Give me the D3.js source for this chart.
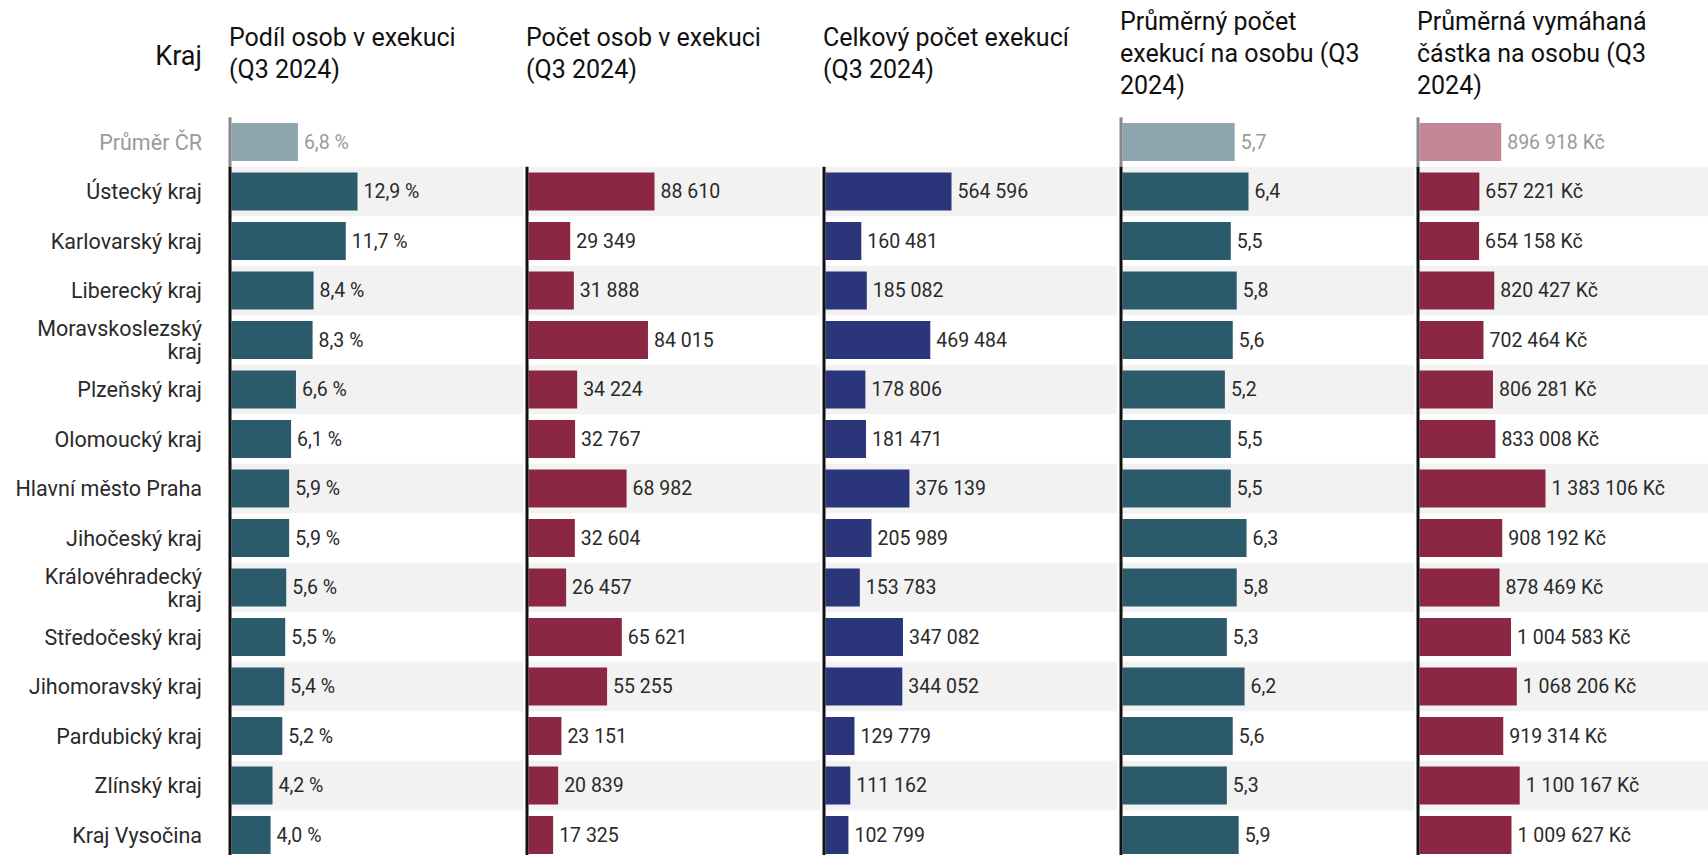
<!DOCTYPE html>
<html>
<head>
<meta charset="utf-8">
<script src="https://cdn.jsdelivr.net/npm/d3@7"></script>
<style>
  body { margin: 0; background: #fff; }
  svg { display: block; font-family: Roboto, "Noto Sans", sans-serif; }
</style>
</head>
<body>
<svg id="chart" width="1708" height="855"></svg>
<script>
// Data
const regions = [
  'Ústecký kraj', 'Karlovarský kraj', 'Liberecký kraj', 'Moravskoslezský kraj',
  'Plzeňský kraj', 'Olomoucký kraj', 'Hlavní město Praha', 'Jihočeský kraj',
  'Královéhradecký kraj', 'Středočeský kraj', 'Jihomoravský kraj',
  'Pardubický kraj', 'Zlínský kraj', 'Kraj Vysočina'
];
const avgLabel = 'Průměr ČR';

const shareValues = [12.9, 11.7, 8.4, 8.3, 6.6, 6.1, 5.9, 5.9, 5.6, 5.5, 5.4, 5.2, 4.2, 4.0];
const shareAvg = 6.8;

const personValues = [88610, 29349, 31888, 84015, 34224, 32767, 68982, 32604, 26457, 65621, 55255, 23151, 20839, 17325];

const totalValues = [564596, 160481, 185082, 469484, 178806, 181471, 376139, 205989, 153783, 347082, 344052, 129779, 111162, 102799];

const perPersonValues = [6.4, 5.5, 5.8, 5.6, 5.2, 5.5, 5.5, 6.3, 5.8, 5.3, 6.2, 5.6, 5.3, 5.9];
const perPersonAvg = 5.7;

const amountValues = [657221, 654158, 820427, 702464, 806281, 833008, 1383106, 908192, 878469, 1004583, 1068206, 919314, 1100167, 1009627];
const amountAvg = 896918;

const titles = [
  ['Podíl osob v exekuci', '(Q3 2024)'],
  ['Počet osob v exekuci', '(Q3 2024)'],
  ['Celkový počet exekucí', '(Q3 2024)'],
  ['Průměrný počet', 'exekucí na osobu (Q3', '2024)'],
  ['Průměrná vymáhaná', 'částka na osobu (Q3', '2024)']
];

// Czech number formatting
const cz = d3.formatLocale({ decimal: ',', thousands: '\u00a0', grouping: [3], currency: ['', '\u00a0Kč'] });
const fmtPct = v => cz.format('.1f')(v) + '\u00a0%';
const fmtInt = v => cz.format(',d')(v);
const fmtDec = v => cz.format('.1f')(v);
const fmtKc = v => cz.format(',d')(v) + '\u00a0Kč';

const teal = '#2b5a6a', tealLight = '#8ea5ae';
const wine = '#8b2743', wineLight = '#c48797';
const navy = '#2b357a';

const columns = [
  { values: shareValues, avg: shareAvg, color: teal, avgColor: tealLight, fmt: fmtPct },
  { values: personValues, avg: null, color: wine, avgColor: null, fmt: fmtInt },
  { values: totalValues, avg: null, color: navy, avgColor: null, fmt: fmtInt },
  { values: perPersonValues, avg: perPersonAvg, color: teal, avgColor: tealLight, fmt: fmtDec },
  { values: amountValues, avg: amountAvg, color: wine, avgColor: wineLight, fmt: fmtKc }
];

const svg = d3.select('#chart');
const width = 1708, height = 855;

const labelRight = 202;
const colStart = 230, colStep = 297, barMax = 126;

// Rows: average first, then regions
const rowKeys = [avgLabel, ...regions];
const step = 49.5;
const y = d3.scaleBand()
  .domain(rowKeys)
  .range([117.25, 117.25 + step * rowKeys.length])
  .paddingInner(0);
const barH = 38;
const barOff = (y.bandwidth() - barH) / 2;

// Alternating background bands, per column
columns.forEach((col, ci) => {
  const x0 = colStart + colStep * ci;
  const bandW = ci === columns.length - 1 ? width - x0 : colStep - 4;
  svg.append('g')
    .selectAll('rect')
    .data(regions.filter((d, i) => i % 2 === 0))
    .join('rect')
    .attr('x', x0)
    .attr('y', d => y(d))
    .attr('width', bandW)
    .attr('height', y.bandwidth())
    .attr('fill', '#f2f2f2');
});

// Header
svg.append('text')
  .attr('x', labelRight)
  .attr('y', 65)
  .attr('text-anchor', 'end')
  .attr('font-size', 27)
  .attr('fill', '#111')
  .text('Kraj');

// Row labels (long names wrap onto two lines)
svg.append('g')
  .selectAll('text')
  .data(rowKeys)
  .join('text')
  .attr('x', labelRight)
  .attr('text-anchor', 'end')
  .attr('font-size', 21.5)
  .attr('fill', d => d === avgLabel ? '#9a9a9a' : '#2a2a2a')
  .each(function(d) {
    const t = d3.select(this);
    const cy = y(d) + y.bandwidth() / 2;
    t.text(d).attr('y', cy).attr('dy', '0.35em');
    if (this.getComputedTextLength() > 192) {
      const words = d.split(' ');
      const last = words.pop();
      t.text(null);
      t.append('tspan').attr('x', labelRight).attr('y', cy - 11.5).attr('dy', '0.35em').text(words.join(' '));
      t.append('tspan').attr('x', labelRight).attr('y', cy + 11.5).attr('dy', '0.35em').text(last);
    }
  });

// Columns
columns.forEach((col, ci) => {
  const x0 = colStart + colStep * ci;
  const g = svg.append('g');
  const maxV = d3.max(col.values.concat(col.avg == null ? [] : [col.avg]));
  const x = d3.scaleLinear().domain([0, maxV]).range([x0 + 1.5, x0 + 1.5 + barMax]);

  // Title
  const lines = titles[ci];
  const mid = 62, lh = 32;
  const first = mid - (lines.length - 1) * lh / 2;
  g.append('text')
    .attr('font-size', 25)
    .attr('fill', '#111')
    .selectAll('tspan')
    .data(lines)
    .join('tspan')
    .attr('x', x0 - 1)
    .attr('y', (d, i) => first + i * lh)
    .text(d => d);

  const rows = regions.map((r, i) => ({ key: r, value: col.values[i], avg: false }));
  if (col.avg != null) rows.unshift({ key: avgLabel, value: col.avg, avg: true });

  g.selectAll('rect.bar')
    .data(rows)
    .join('rect')
    .attr('class', 'bar')
    .attr('x', x(0))
    .attr('y', d => y(d.key) + barOff)
    .attr('width', d => x(d.value) - x(0))
    .attr('height', barH)
    .attr('fill', d => d.avg ? col.avgColor : col.color);

  g.selectAll('text.val')
    .data(rows)
    .join('text')
    .attr('class', 'val')
    .attr('x', d => x(d.value) + 6)
    .attr('y', d => y(d.key) + y.bandwidth() / 2)
    .attr('dy', '0.35em')
    .attr('font-size', 19.5)
    .attr('fill', d => d.avg ? '#9a9a9a' : '#2a2a2a')
    .text(d => col.fmt(d.value));

  // Baseline axis
  if (col.avg != null) {
    g.append('line')
      .attr('x1', x0).attr('x2', x0)
      .attr('y1', y(avgLabel)).attr('y2', y(regions[0]))
      .attr('stroke', '#888').attr('stroke-width', 3);
  }
  g.append('line')
    .attr('x1', x0).attr('x2', x0)
    .attr('y1', y(regions[0])).attr('y2', height)
    .attr('stroke', '#111').attr('stroke-width', 3);
});
</script>
</body>
</html>
